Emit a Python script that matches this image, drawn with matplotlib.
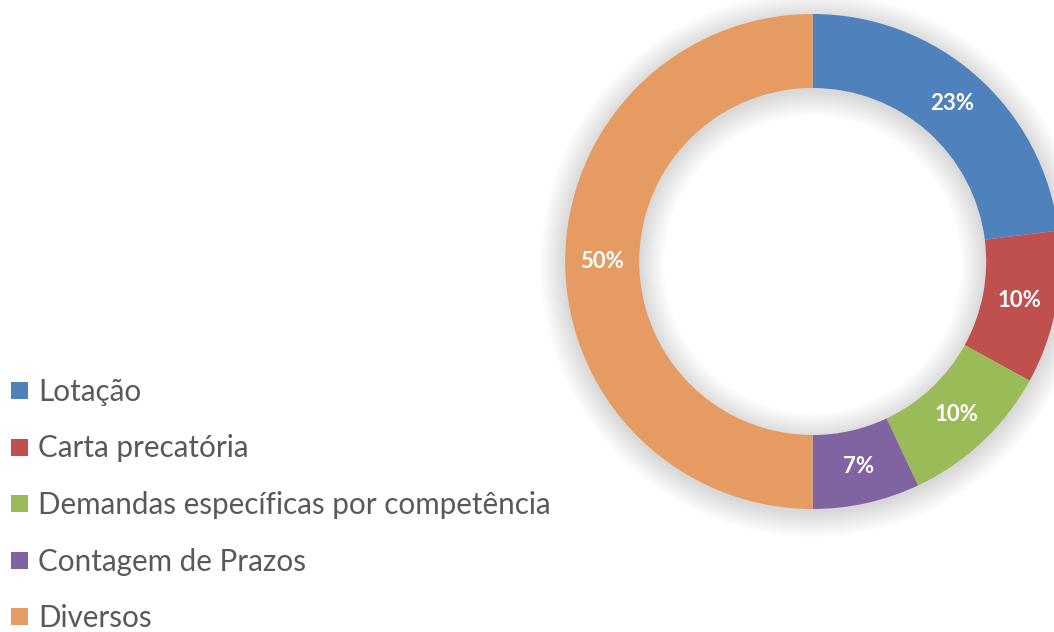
import matplotlib.pyplot as plt
from matplotlib.patches import Wedge, Rectangle

labels = ["Lotação", "Carta precatória", "Demandas específicas por competência",
          "Contagem de Prazos", "Diversos"]
values = [23, 10, 10, 7, 50]
colors = ["#4F81BD", "#C0504D", "#9BBB59", "#8064A2", "#E59B62"]

W, H = 1054, 632
fig = plt.figure(figsize=(W / 100, H / 100), dpi=100)
ax = fig.add_axes([0, 0, 1, 1])

cx, cy = 812.7, H - 261.5
r_out, r_in = 247.5, 173.5
width = r_out - r_in

# soft shadow around the ring
for d in range(1, 26, 2):
    ax.add_patch(Wedge((cx, cy - 3), r_out + d, 0, 360, width=width + 2 * d,
                       facecolor="black", alpha=0.012, linewidth=0))

wedges, texts, autotexts = ax.pie(
    values, colors=colors, startangle=90, counterclock=False,
    center=(cx, cy), radius=r_out, autopct="%1.0f%%",
    pctdistance=(r_in + r_out) / 2 / r_out, frame=True,
    wedgeprops=dict(width=width, linewidth=0),
    textprops=dict(color="white", fontsize=16, fontweight="bold", family="Lato"))

# legend drawn by hand
for i, (lab, col) in enumerate(zip(labels, colors)):
    y = H - (391 + 56.5 * i)
    ax.add_patch(Rectangle((11, y - 8), 17, 17, facecolor=col, linewidth=0))
    ax.text(38, y - 1, lab, fontsize=21.3, color="#595959", va="center", ha="left",
            family="Lato")

ax.set_xlim(0, W)
ax.set_ylim(0, H)
ax.set_aspect("auto")
ax.axis("off")

fig.savefig("out.png", dpi=100, facecolor="white")
